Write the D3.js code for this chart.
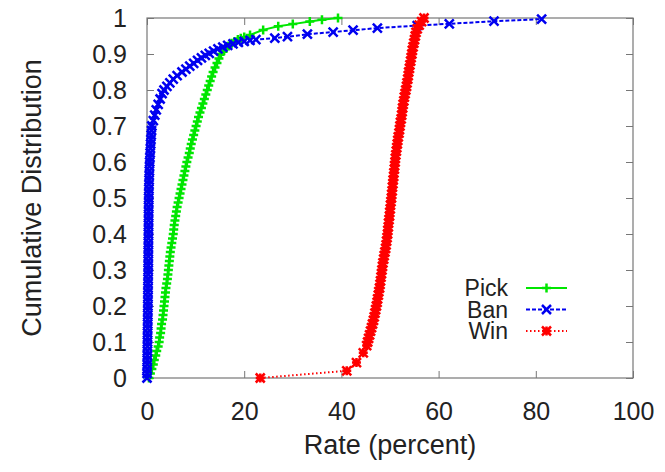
<!DOCTYPE html>
<html>
<head>
<meta charset="utf-8">
<script src="https://cdn.jsdelivr.net/npm/d3@7"></script>
<style>
  body { margin: 0; background: #fff; }
  text { font-family: "Liberation Sans", Arial, sans-serif; fill: #222; }
</style>
</head>
<body>
<div id="chart"></div>
<script>
// CDF-Kurven: Rate in Prozent + kumulierter Anteil
const pickRate = [
  0.4, 0.7, 1.0, 1.3, 1.5, 1.8, 2.0, 2.3, 2.5, 2.6, 2.8, 2.9, 3.0, 3.2, 3.3, 3.4,
  3.5, 3.6, 3.7, 3.8, 3.9, 4.05, 4.2, 4.3, 4.4, 4.5, 4.6, 4.7, 4.8, 4.95, 5.1, 5.25,
  5.4, 5.5, 5.6, 5.75, 5.9, 6.05, 6.2, 6.4, 6.6, 6.8, 7.0, 7.2, 7.4, 7.6, 7.8, 8.0,
  8.2, 8.45, 8.7, 8.9, 9.1, 9.35, 9.6, 9.85, 10.1, 10.35, 10.6, 10.9, 11.2, 11.5, 11.8, 12.1,
  12.4, 12.7, 13.0, 13.3, 13.6, 14.0, 14.4, 14.8, 15.2,
  15.7, 16.2, 16.8, 17.4, 18.0, 18.7, 19.3, 20.0, 21.2, 23.9, 27.0, 30.0, 33.5, 36.0, 39.3
];
const pickCdf = [
  0.0, 0.0125, 0.025, 0.0375, 0.05, 0.0625, 0.075, 0.0875, 0.1, 0.1125, 0.125, 0.1375, 0.15, 0.1625, 0.175, 0.1875,
  0.2, 0.2125, 0.225, 0.2375, 0.25, 0.2625, 0.275, 0.2875, 0.3, 0.3125, 0.325, 0.3375, 0.35, 0.3625, 0.375, 0.3875,
  0.4, 0.4125, 0.425, 0.4375, 0.45, 0.4625, 0.475, 0.4875, 0.5, 0.5125, 0.525, 0.5375, 0.55, 0.5625, 0.575, 0.5875,
  0.6, 0.6125, 0.625, 0.6375, 0.65, 0.6625, 0.675, 0.6875, 0.7, 0.7125, 0.725, 0.7375, 0.75, 0.7625, 0.775, 0.7875,
  0.8, 0.8125, 0.825, 0.8375, 0.85, 0.8625, 0.875, 0.8875, 0.9,
  0.907, 0.915, 0.922, 0.93, 0.935, 0.94, 0.944, 0.947, 0.953, 0.967, 0.977, 0.983, 0.99, 0.995, 1.0
];

const banRate = [
  0.0, 0.02, 0.04, 0.05, 0.06, 0.07, 0.08, 0.09, 0.1, 0.11, 0.12, 0.13, 0.14, 0.15, 0.16, 0.17,
  0.18, 0.19, 0.2, 0.2, 0.21, 0.22, 0.23, 0.24, 0.25, 0.25, 0.26, 0.27, 0.27, 0.28, 0.29, 0.29,
  0.3, 0.31, 0.31, 0.32, 0.33, 0.33, 0.34, 0.35, 0.35, 0.37, 0.39, 0.41, 0.43, 0.46, 0.49, 0.52,
  0.55, 0.6, 0.65, 0.7, 0.75, 0.8, 0.86, 0.93, 1.0,
  1.3, 1.6, 1.9, 2.3, 2.7, 3.1, 3.5, 4.1, 4.7, 5.4, 6.2, 7.2, 8.0, 8.8, 9.6, 10.4,
  11.2, 12.0, 12.8, 13.7, 14.6, 15.6, 16.6, 17.7, 18.8, 20.0, 21.2, 22.4,
  26.3, 28.9, 33.0, 38.3, 42.4, 47.4, 55.6, 62.2, 71.4, 81.2
];
const banCdf = [
  0.0, 0.0125, 0.025, 0.0375, 0.05, 0.0625, 0.075, 0.0875, 0.1, 0.1125, 0.125, 0.1375, 0.15, 0.1625, 0.175, 0.1875,
  0.2, 0.2125, 0.225, 0.2375, 0.25, 0.2625, 0.275, 0.2875, 0.3, 0.3125, 0.325, 0.3375, 0.35, 0.3625, 0.375, 0.3875,
  0.4, 0.4125, 0.425, 0.4375, 0.45, 0.4625, 0.475, 0.4875, 0.5, 0.5125, 0.525, 0.5375, 0.55, 0.5625, 0.575, 0.5875,
  0.6, 0.6125, 0.625, 0.6375, 0.65, 0.6625, 0.675, 0.6875, 0.7,
  0.715, 0.73, 0.745, 0.76, 0.775, 0.79, 0.8, 0.81, 0.82, 0.83, 0.84, 0.85, 0.858, 0.866, 0.874, 0.882,
  0.889, 0.896, 0.902, 0.908, 0.914, 0.919, 0.924, 0.928, 0.932, 0.935, 0.938, 0.94,
  0.944, 0.948, 0.955, 0.961, 0.966, 0.972, 0.979, 0.984, 0.991, 0.997
];

const winRate = [
  23.3, 41.1, 43.1, 44.5, 45.2,
  45.4, 45.6, 45.8, 46.0, 46.2, 46.4, 46.6, 46.75, 46.9, 47.05,
  47.2, 47.35, 47.45, 47.6, 47.7, 47.85, 47.95, 48.05, 48.15, 48.25,
  48.35, 48.45, 48.55, 48.7, 48.8, 48.95, 49.1, 49.2, 49.3, 49.4,
  49.5, 49.55, 49.65, 49.7, 49.8, 49.9, 49.95, 50.05, 50.1, 50.2,
  50.3, 50.35, 50.45, 50.5, 50.6, 50.65, 50.75, 50.8, 50.9, 50.95,
  51.05, 51.1, 51.2, 51.3, 51.4, 51.5, 51.6, 51.7, 51.85, 51.95,
  52.05, 52.15, 52.3, 52.4, 52.5, 52.6, 52.7, 52.85, 52.95, 53.1,
  53.25, 53.4, 53.5, 53.65, 53.75, 53.85, 54.0, 54.1, 54.25, 54.35,
  54.5, 54.6, 54.75, 54.9, 55.05, 55.2, 55.35, 55.6, 56.0, 56.5, 57.0
];
const winCdf = [
  0.0, 0.02, 0.043, 0.07, 0.09,
  0.10, 0.11, 0.12, 0.13, 0.14, 0.15, 0.16, 0.17, 0.18, 0.19,
  0.20, 0.21, 0.22, 0.23, 0.24, 0.25, 0.26, 0.27, 0.28, 0.29,
  0.30, 0.31, 0.32, 0.33, 0.34, 0.35, 0.36, 0.37, 0.38, 0.39,
  0.40, 0.41, 0.42, 0.43, 0.44, 0.45, 0.46, 0.47, 0.48, 0.49,
  0.50, 0.51, 0.52, 0.53, 0.54, 0.55, 0.56, 0.57, 0.58, 0.59,
  0.60, 0.61, 0.62, 0.63, 0.64, 0.65, 0.66, 0.67, 0.68, 0.69,
  0.70, 0.71, 0.72, 0.73, 0.74, 0.75, 0.76, 0.77, 0.78, 0.79,
  0.80, 0.81, 0.82, 0.83, 0.84, 0.85, 0.86, 0.87, 0.88, 0.89,
  0.90, 0.91, 0.92, 0.93, 0.94, 0.95, 0.96, 0.97, 0.98, 0.99, 1.0
];

const seriesNames = ["Pick", "Ban", "Win"];
const xTicks = [0, 20, 40, 60, 80, 100];
const yTicks = [0, 0.1, 0.2, 0.3, 0.4, 0.5, 0.6, 0.7, 0.8, 0.9, 1];

// Größe
const width = 665;
const height = 472;
const margin = { top: 18, right: 32, bottom: 94, left: 147 };

const svg = d3.select("#chart")
  .append("svg")
  .attr("width", width)
  .attr("height", height);

// Skalen
const x = d3.scaleLinear().domain([0, 100]).range([margin.left, width - margin.right]);
const y = d3.scaleLinear().domain([0, 1]).range([height - margin.bottom, margin.top]);

// Stil je Reihe (gnuplot-artig)
const styles = {
  Pick: { color: "#00e600", dash: null, marker: "plus" },
  Ban: { color: "#0000f0", dash: "4,2", marker: "cross" },
  Win: { color: "#ff0000", dash: "1.5,2.5", marker: "star" }
};
const data = {
  Pick: d3.zip(pickRate, pickCdf),
  Ban: d3.zip(banRate, banCdf),
  Win: d3.zip(winRate, winCdf)
};

// Marker-Pfade
function markerPath(type, s) {
  const p = `M${-s},0H${s}M0,${-s}V${s}`;
  const c = `M${-s},${-s}L${s},${s}M${-s},${s}L${s},${-s}`;
  if (type === "plus") return p;
  if (type === "cross") return c;
  return p + c;
}

// Achsen (Ticks innen, auf allen Seiten)
const tickLen = 7;
svg.append("g")
  .attr("class", "xaxis")
  .attr("transform", `translate(0,${y(0)})`)
  .call(d3.axisBottom(x).tickValues(xTicks).tickSize(-tickLen).tickPadding(24))
  .call(g => g.select(".domain").remove());
svg.append("g")
  .attr("transform", `translate(0,${y(1)})`)
  .call(d3.axisTop(x).tickValues(xTicks).tickSize(-tickLen).tickFormat(""))
  .call(g => g.select(".domain").remove());
svg.append("g")
  .attr("class", "yaxis")
  .attr("transform", `translate(${x(0)},0)`)
  .call(d3.axisLeft(y).tickValues(yTicks).tickSize(-tickLen).tickPadding(20).tickFormat(d3.format("~g")))
  .call(g => g.select(".domain").remove());
svg.append("g")
  .attr("transform", `translate(${x(100)},0)`)
  .call(d3.axisRight(y).tickValues(yTicks).tickSize(-tickLen).tickFormat(""))
  .call(g => g.select(".domain").remove());

svg.selectAll(".tick line").attr("stroke", "#777");
svg.selectAll(".tick text")
  .attr("font-size", 25)
  .attr("fill", "#222")
  .attr("font-family", "Liberation Sans, Arial, sans-serif");

// Rahmen
svg.append("rect")
  .attr("x", x(0))
  .attr("y", y(1))
  .attr("width", x(100) - x(0))
  .attr("height", y(0) - y(1))
  .attr("fill", "none")
  .attr("stroke", "#777")
  .attr("stroke-width", 1.2);

// Kurven
const line = d3.line().x(d => x(d[0])).y(d => y(d[1]));

seriesNames.forEach(name => {
  const st = styles[name];
  const g = svg.append("g");
  g.append("path")
    .datum(data[name])
    .attr("fill", "none")
    .attr("stroke", st.color)
    .attr("stroke-width", 2)
    .attr("stroke-dasharray", st.dash)
    .attr("d", line);
  g.selectAll("path.m")
    .data(data[name])
    .join("path")
    .attr("class", "m")
    .attr("transform", d => `translate(${x(d[0])},${y(d[1])})`)
    .attr("d", markerPath(st.marker, 4.5))
    .attr("stroke", st.color)
    .attr("stroke-width", 2.5)
    .attr("fill", "none");
});

// Legende
const legend = svg.append("g");
seriesNames.forEach((name, i) => {
  const st = styles[name];
  const ly = 288 + i * 21.5;
  legend.append("text")
    .attr("x", 508)
    .attr("y", ly)
    .attr("dy", "0.36em")
    .attr("text-anchor", "end")
    .attr("font-size", 23)
    .text(name);
  legend.append("line")
    .attr("x1", 526).attr("x2", 567)
    .attr("y1", ly).attr("y2", ly)
    .attr("stroke", st.color)
    .attr("stroke-width", 2)
    .attr("stroke-dasharray", st.dash);
  legend.append("path")
    .attr("transform", `translate(546.5,${ly})`)
    .attr("d", markerPath(st.marker, 4.5))
    .attr("stroke", st.color)
    .attr("stroke-width", 2.5)
    .attr("fill", "none");
});

// Achsentitel
svg.append("text")
  .attr("x", (x(0) + x(100)) / 2)
  .attr("y", 454)
  .attr("text-anchor", "middle")
  .attr("font-size", 27)
  .text("Rate (percent)");

svg.append("text")
  .attr("transform", `translate(41,${(y(0) + y(1)) / 2}) rotate(-90)`)
  .attr("text-anchor", "middle")
  .attr("font-size", 27)
  .text("Cumulative Distribution");
</script>
</body>
</html>
